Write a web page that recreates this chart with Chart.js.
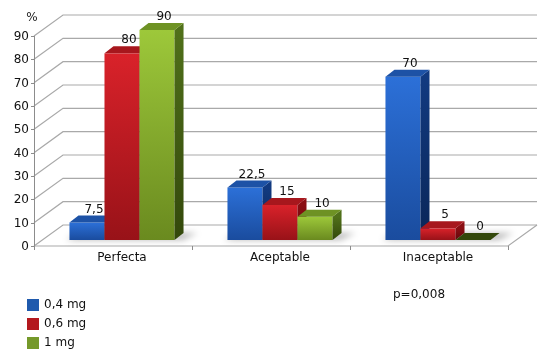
<!DOCTYPE html>
<html>
<head>
<meta charset="utf-8">
<script src="https://cdn.jsdelivr.net/npm/chart.js@4.4.1/dist/chart.umd.min.js"></script>
<style>
  html, body { margin: 0; padding: 0; background: #fff; }
  #wrap { position: relative; width: 551px; height: 359px; }
</style>
</head>
<body>
<div id="wrap"><canvas id="c" width="551" height="359"></canvas></div>
<script>
const categories = ['Perfecta', 'Aceptable', 'Inaceptable'];
const seriesLabels = ['0,4 mg', '0,6 mg', '1 mg'];
const dose04 = [7.5, 22.5, 70];
const dose06 = [80, 15, 5];
const dose1 = [90, 10, 0];
const yTicks = [0, 10, 20, 30, 40, 50, 60, 70, 80, 90];
const unitLabel = '%';
const noteText = 'p=0,008';

const FONT = '"DejaVu Sans", Verdana, sans-serif';
const palettes = [
  { front: ['#2c70d8', '#1a4c9e'], side: ['#123a80', '#0a2658'], top: '#1d52a6', legend: '#1f5aad' },
  { front: ['#d9222a', '#981218'], side: ['#8a0e13', '#62070b'], top: '#a7171d', legend: '#b3181e' },
  { front: ['#9dc83a', '#6a8a1f'], side: ['#50701a', '#33480b'], top: '#6e9224', legend: '#75992a' }
];
const DX = 9, DY = -7;            // bar depth
const FX = -9, FY = 6;            // front plane offset
const BX = 20, BY = -15;          // back plane offset

function fmt(v) { return String(v).replace('.', ','); }

const threeD = {
  id: 'threeD',
  beforeDatasetsDraw(chart) {
    const ctx = chart.ctx;
    const ys = chart.scales.y, xs = chart.scales.x;
    const L = chart.chartArea.left, R = chart.chartArea.right;
    ctx.save();
    // gridlines (side wall + back wall)
    ctx.strokeStyle = '#a9a9a9';
    ctx.lineWidth = 1.2;
    yTicks.forEach(v => {
      const yb = ys.getPixelForValue(v);
      ctx.beginPath();
      ctx.moveTo(L + FX, yb + FY);
      ctx.lineTo(L + BX, yb + BY);
      ctx.lineTo(R + BX, yb + BY);
      ctx.stroke();
    });
    // floor front and right edges
    const y0 = ys.getPixelForValue(0);
    ctx.beginPath();
    ctx.moveTo(L + FX, y0 + FY);
    ctx.lineTo(R + FX, y0 + FY);
    ctx.lineTo(R + BX, y0 + BY);
    ctx.stroke();
    // y axis line and ticks
    const yTop = ys.getPixelForValue(yTicks[yTicks.length - 1]);
    ctx.strokeStyle = '#8c8c8c';
    ctx.lineWidth = 1;
    ctx.beginPath();
    ctx.moveTo(L + FX + 0.5, y0 + FY);
    ctx.lineTo(L + FX + 0.5, yTop + FY);
    ctx.stroke();
    yTicks.forEach(v => {
      const yb = Math.round(ys.getPixelForValue(v) + FY) + 0.5;
      ctx.beginPath();
      ctx.moveTo(L + FX - 3, yb);
      ctx.lineTo(L + FX, yb);
      ctx.stroke();
    });
    // category ticks on front floor edge
    const n = categories.length;
    const cw = (R - L) / n;
    for (let i = 0; i <= n; i++) {
      const x = Math.round(L + FX + i * cw) + 0.5;
      ctx.beginPath();
      ctx.moveTo(x, y0 + FY);
      ctx.lineTo(x, y0 + FY + 4);
      ctx.stroke();
    }
    // floor shadows under bar groups
    const m0 = chart.getDatasetMeta(0), mLast = chart.getDatasetMeta(chart.data.datasets.length - 1);
    for (let i = 0; i < n; i++) {
      const a = m0.data[i], b = mLast.data[i];
      const l = a.x - a.width / 2, r = b.x + b.width / 2;
      ctx.save();
      ctx.filter = 'blur(3px)';
      ctx.fillStyle = 'rgba(0,0,0,0.28)';
      ctx.beginPath();
      ctx.moveTo(l - 3, y0);
      ctx.lineTo(r + 8, y0);
      ctx.lineTo(r + DX + 14, y0 + DY);
      ctx.lineTo(l + DX, y0 + DY);
      ctx.closePath();
      ctx.fill();
      ctx.restore();
    }
    // "%" label
    ctx.fillStyle = '#222';
    ctx.font = '12px ' + FONT;
    ctx.textAlign = 'center';
    ctx.textBaseline = 'middle';
    ctx.fillText(unitLabel, L + FX - 2, 18);
    ctx.restore();
  },
  afterDatasetsDraw(chart) {
    const ctx = chart.ctx;
    ctx.save();
    const n = categories.length;
    for (let i = 0; i < n; i++) {
      chart.data.datasets.forEach((ds, d) => {
        const el = chart.getDatasetMeta(d).data[i];
        const p = palettes[d];
        const l = el.x - el.width / 2, r = el.x + el.width / 2;
        const top = el.y, base = el.base;
        if (base - top > 0.5) {
          const gf = ctx.createLinearGradient(0, top, 0, base);
          gf.addColorStop(0, p.front[0]);
          gf.addColorStop(1, p.front[1]);
          ctx.fillStyle = gf;
          ctx.fillRect(l, top, r - l, base - top);
          const gs = ctx.createLinearGradient(0, top, 0, base);
          gs.addColorStop(0, p.side[0]);
          gs.addColorStop(1, p.side[1]);
          ctx.fillStyle = gs;
          ctx.beginPath();
          ctx.moveTo(r, top);
          ctx.lineTo(r + DX, top + DY);
          ctx.lineTo(r + DX, base + DY);
          ctx.lineTo(r, base);
          ctx.closePath();
          ctx.fill();
        }
        ctx.fillStyle = (base - top > 0.5) ? p.top : p.side[1];
        ctx.beginPath();
        ctx.moveTo(l, top);
        ctx.lineTo(r, top);
        ctx.lineTo(r + DX, top + DY);
        ctx.lineTo(l + DX, top + DY);
        ctx.closePath();
        ctx.fill();
        // value label
        ctx.fillStyle = '#111';
        ctx.font = '12px ' + FONT;
        ctx.textAlign = 'center';
        ctx.textBaseline = 'alphabetic';
        ctx.fillText(fmt(ds.data[i]), el.x + 7, top + DY - 3);
      });
    }
    // legend
    ctx.font = '12px ' + FONT;
    ctx.textAlign = 'left';
    ctx.textBaseline = 'middle';
    chart.data.datasets.forEach((ds, d) => {
      const cy = 305 + d * 19;
      ctx.fillStyle = palettes[d].legend;
      ctx.fillRect(27, cy - 6, 12, 12);
      ctx.fillStyle = '#111';
      ctx.fillText(ds.label, 44, cy);
    });
    // note
    ctx.textAlign = 'center';
    ctx.fillText(noteText, 419, 295);
    ctx.restore();
  }
};

new Chart(document.getElementById('c'), {
  type: 'bar',
  data: {
    labels: categories,
    datasets: [
      { label: seriesLabels[0], data: dose04 },
      { label: seriesLabels[1], data: dose06 },
      { label: seriesLabels[2], data: dose1 }
    ].map(ds => Object.assign(ds, {
      backgroundColor: 'rgba(0,0,0,0)', borderWidth: 0,
      categoryPercentage: 0.665, barPercentage: 1.0
    }))
  },
  options: {
    responsive: false,
    animation: false,
    events: [],
    layout: { padding: { left: 0, right: 34, top: 30, bottom: 93 } },
    plugins: { legend: { display: false }, tooltip: { enabled: false } },
    scales: {
      x: {
        grid: { display: false, drawTicks: false },
        border: { display: false },
        ticks: { padding: 11, color: '#111', font: { family: FONT, size: 12 } },
        afterFit(s) { s.height = 26; }
      },
      y: {
        min: 0, max: 90,
        afterBuildTicks(s) { s.ticks = yTicks.map(v => ({ value: v })); },
        grid: { display: false, drawTicks: false },
        border: { display: false },
        ticks: { padding: 14, labelOffset: 7, color: '#111', font: { family: FONT, size: 12 } },
        afterFit(s) { s.width = 43; }
      }
    }
  },
  plugins: [threeD]
});
</script>
</body>
</html>
